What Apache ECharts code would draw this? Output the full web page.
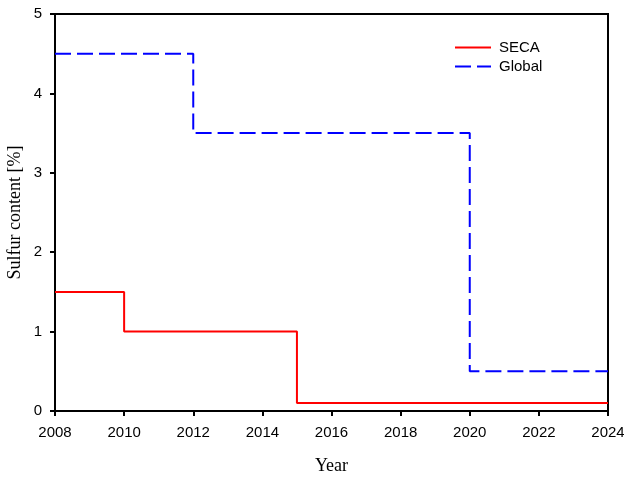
<!DOCTYPE html>
<html>
<head>
<meta charset="utf-8">
<script src="https://cdn.jsdelivr.net/npm/echarts@6/dist/echarts.min.js"></script>
<style>
html, body { margin: 0; padding: 0; background: #fff; }
#chart { width: 624px; height: 477px; }
</style>
</head>
<body>
<div id="chart"></div>
<script>
// Sulfur limits for marine fuel: step changes by year
const secaYears = [2008, 2010, 2015, 2024];
const secaLimits = [1.5, 1.0, 0.1, 0.1];
const globalYears = [2008, 2012, 2020, 2024];
const globalLimits = [4.5, 3.5, 0.5, 0.5];

const pairs = (xs, ys) => xs.map((x, i) => [x, ys[i]]);

const chart = echarts.init(document.getElementById('chart'));
const tickLabel = { color: '#000', fontFamily: 'Liberation Sans, Arial, sans-serif', fontSize: 15 };
const titleFont = { color: '#000', fontFamily: 'Liberation Serif, Times New Roman, serif', fontSize: 18 };

chart.setOption({
  animation: false,
  grid: {
    left: 55, right: 16, top: 14, bottom: 66,
    outerBoundsMode: 'none', containLabel: false,
    show: true, borderColor: '#000', borderWidth: 2
  },
  legend: {
    top: 35, left: 449, orient: 'vertical', itemGap: 4,
    itemWidth: 36, itemHeight: 14,
    itemStyle: { opacity: 0 },
    textStyle: { color: '#000', fontFamily: 'Liberation Sans, Arial, sans-serif', fontSize: 15, padding: [0, 0, 0, 3] },
    data: ['SECA', 'Global']
  },
  xAxis: {
    type: 'value', min: 2008, max: 2024, interval: 2,
    name: 'Year', nameLocation: 'middle', nameGap: 46, nameTextStyle: titleFont,
    nameMoveOverlap: false,
    axisLine: { show: true, lineStyle: { color: '#000', width: 2 } },
    axisTick: { show: true, inside: false, length: 5, lineStyle: { color: '#000', width: 2 } },
    axisLabel: Object.assign({ margin: 14, formatter: v => String(v) }, tickLabel),
    splitLine: { show: false }
  },
  yAxis: {
    type: 'value', min: 0, max: 5, interval: 1,
    name: 'Sulfur content [%]', nameLocation: 'middle', nameGap: 31, nameTextStyle: titleFont,
    nameMoveOverlap: false,
    axisLine: { show: true, lineStyle: { color: '#000', width: 2 } },
    axisTick: { show: true, inside: false, length: 5, lineStyle: { color: '#000', width: 2 } },
    axisLabel: Object.assign({ margin: 13 }, tickLabel),
    splitLine: { show: false }
  },
  series: [
    {
      name: 'SECA', type: 'line', step: 'end', symbol: 'none',
      data: pairs(secaYears, secaLimits),
      lineStyle: { color: '#ff0000', width: 2 },
      itemStyle: { color: '#ff0000' }
    },
    {
      name: 'Global', type: 'line', step: 'end', symbol: 'none',
      data: pairs(globalYears, globalLimits),
      lineStyle: { color: '#0000ff', width: 2, type: [16, 6] },
      itemStyle: { color: '#0000ff' }
    }
  ]
});
</script>
</body>
</html>
